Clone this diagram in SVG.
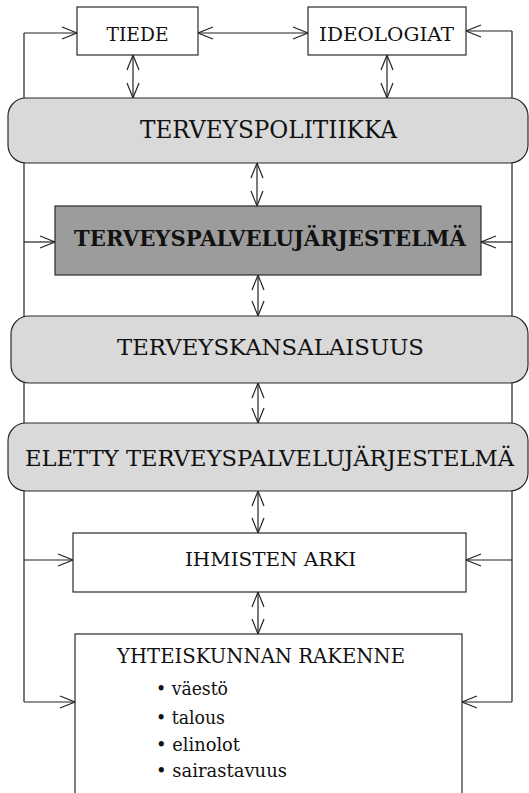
<svg xmlns="http://www.w3.org/2000/svg" width="529" height="793" viewBox="0 0 529 793">
<style>
.box{fill:#ffffff;stroke:#2a2a2a;stroke-width:1.2}
.rbox{fill:#d9d9d9;stroke:#2a2a2a;stroke-width:1.2}
.dbox{fill:#9c9c9c;stroke:#2a2a2a;stroke-width:1.2}
text{font-family:'DejaVu Serif',serif;fill:#111}
.t{text-anchor:middle}
.b{font-size:19px}
.c{fill:none;stroke:#222;stroke-width:1.2}
</style>
<defs>
<marker id="ah" viewBox="-17 -8 19 16" refX="0" refY="0" markerWidth="19" markerHeight="16" markerUnits="userSpaceOnUse" orient="auto-start-reverse">
<path d="M-15,-6 L0,0 L-15,6" fill="none" stroke="#222" stroke-width="1.2"/>
</marker>
</defs>
<g id="connectors">
<path class="c" d="M24,33 V702"/>
<path class="c" d="M512,31 V702"/>
<path class="c" d="M24,33 H77" marker-end="url(#ah)"/>
<path class="c" d="M24,242 H55" marker-end="url(#ah)"/>
<path class="c" d="M24,560 H73" marker-end="url(#ah)"/>
<path class="c" d="M24,702 H75" marker-end="url(#ah)"/>
<path class="c" d="M512,31 H466" marker-end="url(#ah)"/>
<path class="c" d="M512,242 H481" marker-end="url(#ah)"/>
<path class="c" d="M512,560 H466" marker-end="url(#ah)"/>
<path class="c" d="M512,702 H462" marker-end="url(#ah)"/>
<path class="c" d="M198,33 H308" marker-start="url(#ah)" marker-end="url(#ah)"/>
<path class="c" d="M133,55 V98" marker-start="url(#ah)" marker-end="url(#ah)"/>
<path class="c" d="M387,55 V98" marker-start="url(#ah)" marker-end="url(#ah)"/>
<path class="c" d="M257,163 V206" marker-start="url(#ah)" marker-end="url(#ah)"/>
<path class="c" d="M258,275 V316" marker-start="url(#ah)" marker-end="url(#ah)"/>
<path class="c" d="M258,383 V423" marker-start="url(#ah)" marker-end="url(#ah)"/>
<path class="c" d="M258,491 V533" marker-start="url(#ah)" marker-end="url(#ah)"/>
<path class="c" d="M258,592 V634" marker-start="url(#ah)" marker-end="url(#ah)"/>
</g>
<g id="tiede">
<rect class="box" x="77" y="7" width="121" height="48"/>
<text class="t" x="137.5" y="41" font-size="19" textLength="62" lengthAdjust="spacingAndGlyphs">TIEDE</text>
</g>
<g id="ideologiat">
<rect class="box" x="308" y="7" width="158" height="48"/>
<text class="t" x="386.5" y="41" font-size="19" textLength="135" lengthAdjust="spacingAndGlyphs">IDEOLOGIAT</text>
</g>
<g id="terveyspolitiikka">
<rect class="rbox" x="8" y="98" width="520" height="65" rx="18" ry="18"/>
<text class="t" x="268.5" y="138" font-size="24" textLength="257" lengthAdjust="spacingAndGlyphs">TERVEYSPOLITIIKKA</text>
</g>
<g id="terveyspalvelujarjestelma">
<rect class="dbox" x="55" y="206" width="426" height="69"/>
<text class="t" x="270" y="246" font-size="22" font-weight="bold" textLength="392" lengthAdjust="spacingAndGlyphs">TERVEYSPALVELUJÄRJESTELMÄ</text>
</g>
<g id="terveyskansalaisuus">
<rect class="rbox" x="11" y="316" width="517" height="67" rx="18" ry="18"/>
<text class="t" x="270.5" y="355" font-size="23" textLength="307" lengthAdjust="spacingAndGlyphs">TERVEYSKANSALAISUUS</text>
</g>
<g id="eletty">
<rect class="rbox" x="8" y="423" width="520" height="68" rx="18" ry="18"/>
<text class="t" x="269.5" y="466" font-size="22.5" textLength="489" lengthAdjust="spacingAndGlyphs">ELETTY TERVEYSPALVELUJÄRJESTELMÄ</text>
</g>
<g id="ihmisten-arki">
<rect class="box" x="73" y="533" width="393" height="59"/>
<text class="t" x="270.5" y="566" font-size="19" textLength="171" lengthAdjust="spacingAndGlyphs">IHMISTEN ARKI</text>
</g>
<g id="yhteiskunnan-rakenne">
<rect class="box" x="75" y="634" width="387" height="170"/>
<text class="t" x="261" y="663" font-size="20" textLength="288" lengthAdjust="spacingAndGlyphs">YHTEISKUNNAN RAKENNE</text>
<text class="b" x="156" y="695" textLength="72" lengthAdjust="spacingAndGlyphs">• väestö</text>
<text class="b" x="156" y="724" textLength="69" lengthAdjust="spacingAndGlyphs">• talous</text>
<text class="b" x="156" y="751" textLength="84" lengthAdjust="spacingAndGlyphs">• elinolot</text>
<text class="b" x="156" y="777" textLength="131" lengthAdjust="spacingAndGlyphs">• sairastavuus</text>
</g>
</svg>
